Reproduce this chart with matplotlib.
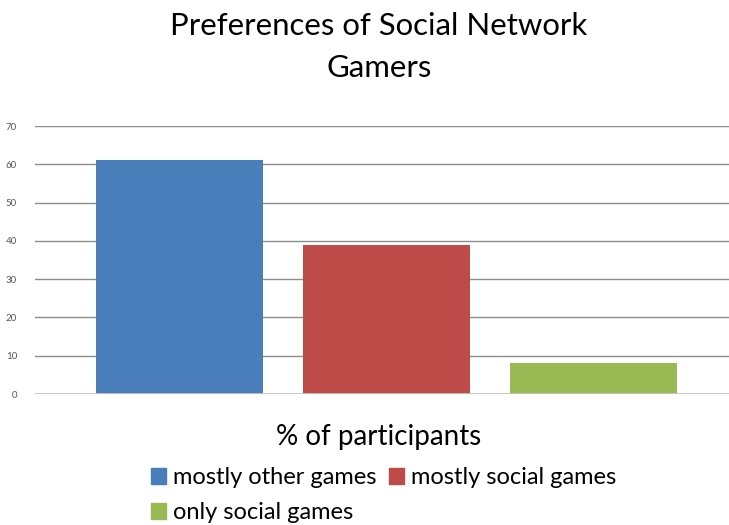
import matplotlib
matplotlib.use("Agg")
import matplotlib.pyplot as plt
from matplotlib.patches import Patch

categories = ["mostly other games", "mostly social games", "only social games"]
values = [61, 39, 8]
colors = ["#4A7EBB", "#BE4B48", "#98B954"]
yticks = [0, 10, 20, 30, 40, 50, 60, 70]

plt.rcParams["font.family"] = ["Lato", "DejaVu Sans"]

fig = plt.figure(figsize=(7.29, 5.25), dpi=100)
ax = fig.add_axes([35 / 729, 1 - 394 / 525, 1 - 35 / 729, (394 - 126) / 525])

x = list(range(len(values)))
ax.bar(x, values, width=0.81, color=colors, zorder=3)

ax.set_xlim(-0.698, 2.655)
ax.set_ylim(0, 70)
ax.set_yticks(yticks)
ax.set_xticks([])
for y in yticks:
    c = "#c4c4c4" if y == 0 else "#8c8c8c"
    lw = 2.0 if y == 0 else 1.0
    ax.axhline(y, color=c, lw=lw, zorder=1 if y else 4)
for s in ax.spines.values():
    s.set_visible(False)
ax.tick_params(axis="y", length=0, pad=13, labelsize=7, labelcolor="#555555")

fig.text(0.52, 0.977, "Preferences of Social Network\nGamers", ha="center", va="top",
         fontsize=22.4, color="#000000", linespacing=1.6)
fig.text(0.52, 0.168, "% of participants", ha="center", va="center",
         fontsize=20, color="#000000")

handles = [Patch(color=colors[0], label=categories[0]),
           Patch(color=colors[2], label=categories[2]),
           Patch(color=colors[1], label=categories[1])]
fig.legend(handles=handles, ncol=2, loc="upper left", bbox_to_anchor=(151 / 729, 1 - 467 / 525),
           frameon=False, fontsize=17, handlelength=0.65, handleheight=0.65,
           handletextpad=0.3, columnspacing=0.5, labelspacing=0.6, borderaxespad=0,
           borderpad=0)

fig.savefig("out.png", dpi=100)
